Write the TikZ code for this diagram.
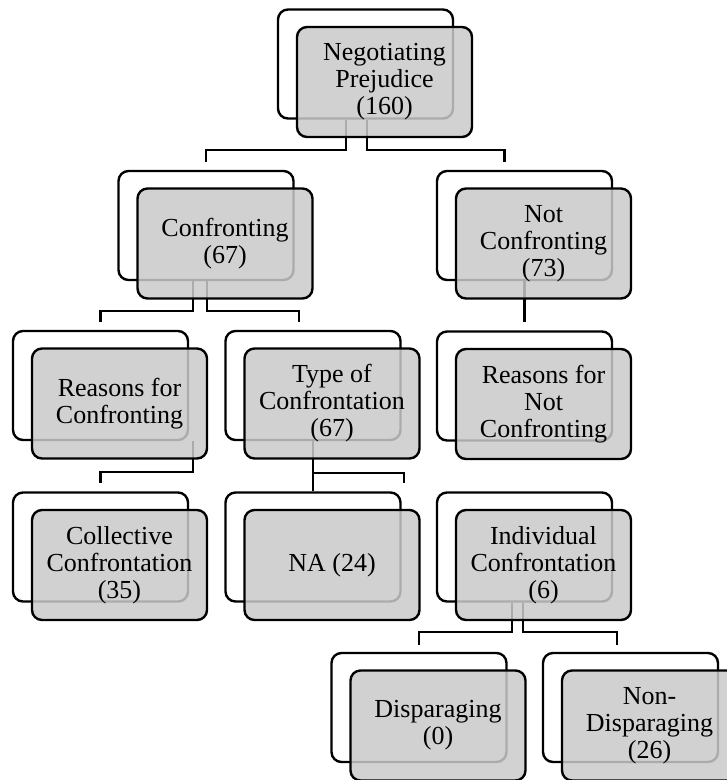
\documentclass[tikz,border=0pt]{standalone}
\usepackage{fontspec}
\setmainfont{Liberation Serif}
\definecolor{boxgray}{RGB}{202,202,202}

\begin{document}
\begin{tikzpicture}[x=1pt,y=-1pt,
  back/.style={draw,line width=2.4pt,rounded corners=10pt,fill=white,minimum width=175pt,minimum height=109pt,inner sep=0pt},
  front/.style={draw,line width=2.4pt,rounded corners=10pt,fill=boxgray,fill opacity=.85,text opacity=1,minimum width=175pt,minimum height=110pt,inner sep=0pt,align=center,font=\fontsize{26}{27}\selectfont},
  link/.style={line width=2.4pt}]
\useasboundingbox (0,0) rectangle (727,780);
\node[back] (b0) at (365.5,64) {};
\node[back] (b1) at (206,225.5) {};
\node[back] (b2) at (524.5,225.5) {};
\node[back] (b3) at (100.5,385.5) {};
\node[back] (b4) at (313,385.5) {};
\node[back] (b5) at (524.5,386) {};
\node[back] (b6) at (100.5,547) {};
\node[back] (b7) at (313,547) {};
\node[back] (b8) at (524.5,547) {};
\node[back] (b9) at (419,707.5) {};
\node[back] (b10) at (630.5,707.5) {};
\coordinate (c0) at (404,483);
\draw[link] ([xshift=-19.5pt]b0.south) -- ++(0,30) -| ([yshift=8pt]b1.north);
\draw[link] ([xshift=1.5pt]b0.south) -- ++(0,30) -| ([xshift=-20pt,yshift=8pt]b2.north);
\draw[link] ([xshift=-13pt]b1.south) -- ++(0,30) -| ([yshift=8pt]b3.north);
\draw[link] ([xshift=1pt]b1.south) -- ++(0,30) -| ([xshift=-14pt,yshift=8pt]b4.north);
\draw[link] (b2.south) -- ([yshift=8pt]b5.north);
\draw[link] ([xshift=92.5pt]b3.south) -- ++(0,31) -| ([yshift=8pt]b6.north);
\draw[link] (b4.south) -- (b7.north);
\draw[link] (b4.south) -- ++(0,32) -| (c0);
\draw[link] ([xshift=-12.5pt]b8.south) -- ++(0,29) -| ([yshift=7pt]b9.north);
\draw[link] ([xshift=-1.5pt]b8.south) -- ++(0,29) -| ([xshift=-13.5pt,yshift=7pt]b10.north);
\node[front] (f0) at ([shift={(19,18)}]b0.center) {Negotiating\\Prejudice\\(160)};
\node[front] (f1) at ([shift={(19,18)}]b1.center) {Confronting\\(67)};
\node[front] (f2) at ([shift={(19,18)}]b2.center) {Not\\Confronting\\(73)};
\node[front] (f3) at ([shift={(19,18)}]b3.center) {Reasons for\\Confronting};
\node[front] (f4) at ([shift={(19,18)}]b4.center) {Type of\\Confrontation\\(67)};
\node[front] (f5) at ([shift={(19,18)}]b5.center) {Reasons for\\Not\\Confronting};
\node[front] (f6) at ([shift={(19,18)}]b6.center) {Collective\\Confrontation\\(35)};
\node[front] (f7) at ([shift={(19,18)}]b7.center) {NA (24)};
\node[front] (f8) at ([shift={(19,18)}]b8.center) {Individual\\Confrontation\\(6)};
\node[front] (f9) at ([shift={(19,18)}]b9.center) {Disparaging\\(0)};
\node[front] (f10) at ([shift={(19,18)}]b10.center) {Non-\\Disparaging\\(26)};
\end{tikzpicture}
\end{document}
